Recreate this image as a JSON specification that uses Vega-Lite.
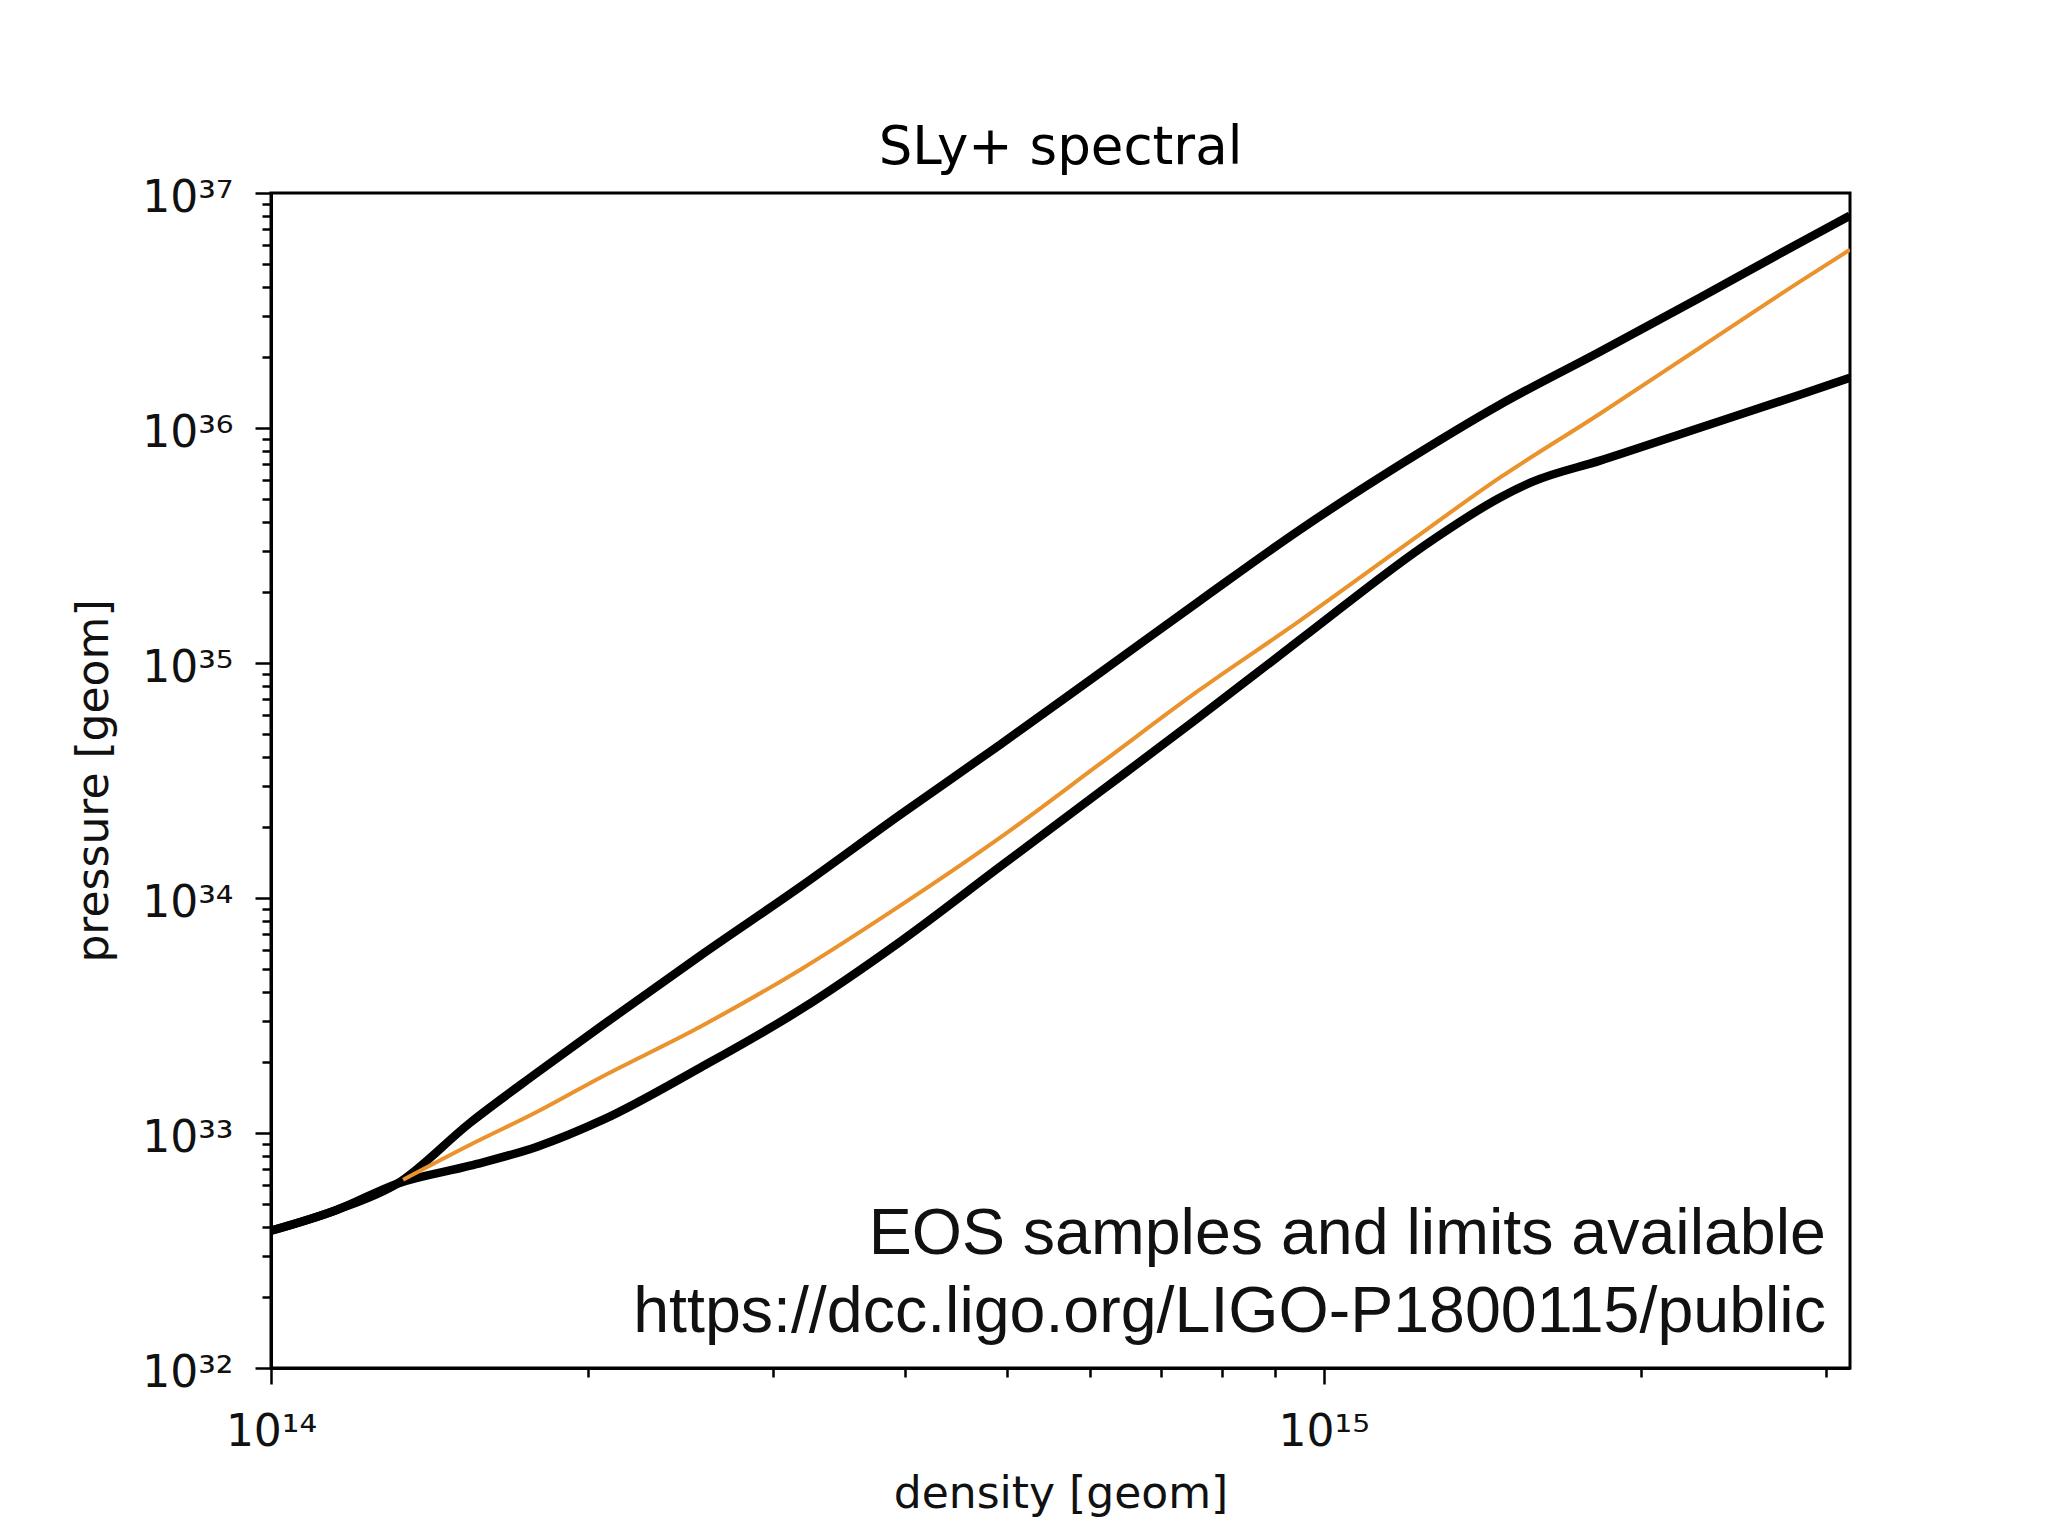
{
  "$schema": "https://vega.github.io/schema/vega-lite/v6.json",
  "width": 1579,
  "height": 1175,
  "autosize": {"type": "none"},
  "padding": {"left": 271, "top": 193, "right": 195, "bottom": 159},
  "background": "#ffffff",
  "title": {
    "text": "SLy+ spectral",
    "font": "DejaVu Sans",
    "fontSize": 53,
    "fontWeight": "normal",
    "color": "#000000",
    "anchor": "middle",
    "frame": "group",
    "baseline": "alphabetic",
    "offset": -41
  },
  "config": {
    "view": {"stroke": "#000000", "strokeWidth": 3},
    "axis": {
      "grid": false,
      "domainColor": "#000000",
      "domainWidth": 3,
      "tickColor": "#000000",
      "tickWidth": 2.5,
      "labelFont": "DejaVu Sans",
      "labelFontSize": 44,
      "labelColor": "#111111",
      "labelOverlap": false,
      "labelFlush": false,
      "titleFont": "DejaVu Sans",
      "titleFontSize": 44,
      "titleFontWeight": "normal",
      "titleColor": "#111111"
    }
  },
  "data": {
    "values": [
      {"curve": "upper", "density": 1.000e14, "pressure": 3.840e32},
      {"curve": "upper", "density": 1.156e14, "pressure": 4.716e32},
      {"curve": "upper", "density": 1.318e14, "pressure": 6.086e32},
      {"curve": "upper", "density": 1.546e14, "pressure": 1.106e33},
      {"curve": "upper", "density": 1.790e14, "pressure": 1.806e33},
      {"curve": "upper", "density": 2.068e14, "pressure": 2.889e33},
      {"curve": "upper", "density": 2.557e14, "pressure": 5.682e33},
      {"curve": "upper", "density": 3.183e14, "pressure": 1.117e34},
      {"curve": "upper", "density": 3.960e14, "pressure": 2.262e34},
      {"curve": "upper", "density": 4.927e14, "pressure": 4.491e34},
      {"curve": "upper", "density": 6.133e14, "pressure": 9.093e34},
      {"curve": "upper", "density": 7.627e14, "pressure": 1.841e35},
      {"curve": "upper", "density": 9.495e14, "pressure": 3.692e35},
      {"curve": "upper", "density": 1.182e15, "pressure": 6.981e35},
      {"curve": "upper", "density": 1.470e15, "pressure": 1.256e36},
      {"curve": "upper", "density": 1.830e15, "pressure": 2.112e36},
      {"curve": "upper", "density": 2.277e15, "pressure": 3.585e36},
      {"curve": "upper", "density": 2.834e15, "pressure": 6.145e36},
      {"curve": "upper", "density": 3.162e15, "pressure": 8.008e36},
      {"curve": "lower", "density": 1.000e14, "pressure": 3.840e32},
      {"curve": "lower", "density": 1.156e14, "pressure": 4.716e32},
      {"curve": "lower", "density": 1.318e14, "pressure": 6.086e32},
      {"curve": "lower", "density": 1.546e14, "pressure": 7.261e32},
      {"curve": "lower", "density": 1.790e14, "pressure": 8.744e32},
      {"curve": "lower", "density": 2.068e14, "pressure": 1.139e33},
      {"curve": "lower", "density": 2.557e14, "pressure": 1.896e33},
      {"curve": "lower", "density": 3.183e14, "pressure": 3.347e33},
      {"curve": "lower", "density": 3.960e14, "pressure": 6.516e33},
      {"curve": "lower", "density": 4.927e14, "pressure": 1.359e34},
      {"curve": "lower", "density": 6.133e14, "pressure": 2.833e34},
      {"curve": "lower", "density": 7.627e14, "pressure": 5.909e34},
      {"curve": "lower", "density": 9.495e14, "pressure": 1.256e35},
      {"curve": "lower", "density": 1.270e15, "pressure": 3.347e35},
      {"curve": "lower", "density": 1.470e15, "pressure": 5.051e35},
      {"curve": "lower", "density": 1.580e15, "pressure": 5.909e35},
      {"curve": "lower", "density": 1.830e15, "pressure": 7.261e35},
      {"curve": "lower", "density": 2.277e15, "pressure": 1.003e36},
      {"curve": "lower", "density": 2.834e15, "pressure": 1.386e36},
      {"curve": "lower", "density": 3.162e15, "pressure": 1.637e36},
      {"curve": "median", "density": 1.335e14, "pressure": 6.328e32},
      {"curve": "median", "density": 1.546e14, "pressure": 8.916e32},
      {"curve": "median", "density": 1.790e14, "pressure": 1.232e33},
      {"curve": "median", "density": 2.054e14, "pressure": 1.719e33},
      {"curve": "median", "density": 2.557e14, "pressure": 2.833e33},
      {"curve": "median", "density": 3.183e14, "pressure": 4.953e33},
      {"curve": "median", "density": 3.960e14, "pressure": 9.273e33},
      {"curve": "median", "density": 4.927e14, "pressure": 1.806e34},
      {"curve": "median", "density": 6.133e14, "pressure": 3.728e34},
      {"curve": "median", "density": 7.627e14, "pressure": 7.697e34},
      {"curve": "median", "density": 9.495e14, "pressure": 1.514e35},
      {"curve": "median", "density": 1.182e15, "pressure": 3.065e35},
      {"curve": "median", "density": 1.470e15, "pressure": 6.145e35},
      {"curve": "median", "density": 1.830e15, "pressure": 1.150e36},
      {"curve": "median", "density": 2.277e15, "pressure": 2.196e36},
      {"curve": "median", "density": 2.834e15, "pressure": 4.194e36},
      {"curve": "median", "density": 3.162e15, "pressure": 5.737e36}
    ]
  },
  "layer": [
    {
      "transform": [{"filter": "datum.curve != 'median'"}],
      "mark": {"type": "line", "color": "#000000", "strokeWidth": 8.5, "interpolate": "monotone", "clip": true},
      "encoding": {
        "x": {
          "field": "density",
          "type": "quantitative",
          "scale": {"type": "log", "domain": [1e14, 3.1623e15], "nice": false},
          "axis": {
            "title": "density [geom]",
            "values": [1e14, 2e14, 3e14, 4e14, 5e14, 6e14, 7e14, 8e14, 9e14, 1e15, 2e15, 3e15],
            "labelExpr": "datum.value == 1e14 ? '10¹⁴' : datum.value == 1e15 ? '10¹⁵' : ''",
            "tickSize": {"condition": {"test": "datum.value == 1e14 || datum.value == 1e15", "value": 16}, "value": 9},
            "labelPadding": 26,
            "titleBaseline": "alphabetic",
            "titleY": 139
          }
        },
        "y": {
          "field": "pressure",
          "type": "quantitative",
          "scale": {"type": "log", "domain": [1e32, 1e37], "nice": false},
          "axis": {
            "title": "pressure [geom]",
            "values": [1e32, 2e32, 3e32, 4e32, 5e32, 6e32, 7e32, 8e32, 9e32, 1e33, 2e33, 3e33, 4e33, 5e33, 6e33, 7e33, 8e33, 9e33, 1e34, 2e34, 3e34, 4e34, 5e34, 6e34, 7e34, 8e34, 9e34, 1e35, 2e35, 3e35, 4e35, 5e35, 6e35, 7e35, 8e35, 9e35, 1e36, 2e36, 3e36, 4e36, 5e36, 6e36, 7e36, 8e36, 9e36, 1e37],
            "labelExpr": "datum.value == 1e32 ? '10³²' : datum.value == 1e33 ? '10³³' : datum.value == 1e34 ? '10³⁴' : datum.value == 1e35 ? '10³⁵' : datum.value == 1e36 ? '10³⁶' : datum.value == 1e37 ? '10³⁷' : ''",
            "tickSize": {"condition": {"test": "indexof([1e32, 1e33, 1e34, 1e35, 1e36, 1e37], datum.value) >= 0", "value": 16}, "value": 9},
            "labelPadding": 22,
            "labelBaseline": "middle",
            "labelOffset": 5,
            "titleBaseline": "alphabetic",
            "titleX": -164,
            "titleY": 587.5
          }
        },
        "detail": {"field": "curve"}
      }
    },
    {
      "transform": [{"filter": "datum.curve == 'median'"}],
      "mark": {"type": "line", "color": "#ea922c", "strokeWidth": 4, "interpolate": "monotone", "clip": true},
      "encoding": {
        "x": {"field": "density", "type": "quantitative"},
        "y": {"field": "pressure", "type": "quantitative"}
      }
    },
    {
      "data": {"values": [{"note": "EOS samples and limits available\nhttps://dcc.ligo.org/LIGO-P1800115/public"}]},
      "mark": {"type": "text", "align": "right", "baseline": "alphabetic", "font": "Liberation Sans", "fontSize": 64.5, "lineBreak": "\n", "lineHeight": 78, "color": "#111111"},
      "encoding": {
        "x": {"datum": 3.0e15, "type": "quantitative"},
        "y": {"datum": 3.065e32, "type": "quantitative"},
        "text": {"field": "note"}
      }
    }
  ]
}
